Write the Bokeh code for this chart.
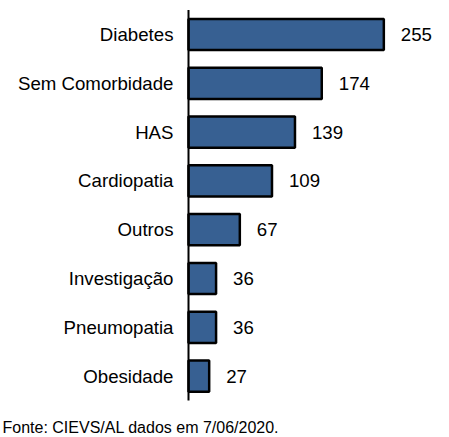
from bokeh.plotting import figure
from bokeh.models import ColumnDataSource, Range1d, Label
from bokeh.core.properties import value
from bokeh.embed import file_html
from bokeh.resources import INLINE

categories = ["Diabetes", "Sem Comorbidade", "HAS", "Cardiopatia", "Outros",
              "Investigação", "Pneumopatia", "Obesidade"]
counts = [255, 174, 139, 109, 67, 36, 36, 27]
source_note = "Fonte: CIEVS/AL dados em 7/06/2020."

FONT = "Liberation Sans"
W, H = 449, 437
AXIS_X = 188      # pixel position of the vertical axis
PX_PER_UNIT = 0.766
ROW0, PITCH = 34, 48.8

rows = list(range(len(categories)))
src = ColumnDataSource(dict(cat=categories, val=counts, row=rows,
                            lbl=[str(v) for v in counts]))

p = figure(width=W, height=H,
           x_range=Range1d(-AXIS_X / PX_PER_UNIT, (W - AXIS_X) / PX_PER_UNIT),
           y_range=Range1d((H - ROW0) / PITCH, -ROW0 / PITCH),
           output_backend="svg", toolbar_location=None,
           min_border=0, min_border_left=0, min_border_right=0,
           min_border_top=0, min_border_bottom=0)
p.xaxis.visible = False
p.yaxis.visible = False
p.grid.visible = False
p.outline_line_color = None

p.hbar(y="row", right="val", left=0, height=0.64, source=src,
       fill_color="#376092", line_color="black", line_width=2.5)

# vertical axis line spanning all category bands
p.segment(x0=[0], y0=[-0.5], x1=[0], y1=[len(categories) - 0.5],
          line_color="black", line_width=2)

# category labels
p.text(x=0, y="row", text="cat", source=src, x_offset=-15,
       text_align="right", text_baseline="middle", text_font=value(FONT),
       text_font_size="18.67px", text_color="black")

# value labels
p.text(x="val", y="row", text="lbl", source=src, x_offset=17,
       text_align="left", text_baseline="middle", text_font=value(FONT),
       text_font_size="18.67px", text_color="black")

note = Label(x=2, y=10, x_units="screen", y_units="screen",
             text=source_note, text_font=FONT, text_font_size="16px",
             text_color="black", text_align="left", text_baseline="middle")
p.add_layout(note)

open("out.html", "w").write(file_html(p, INLINE))
